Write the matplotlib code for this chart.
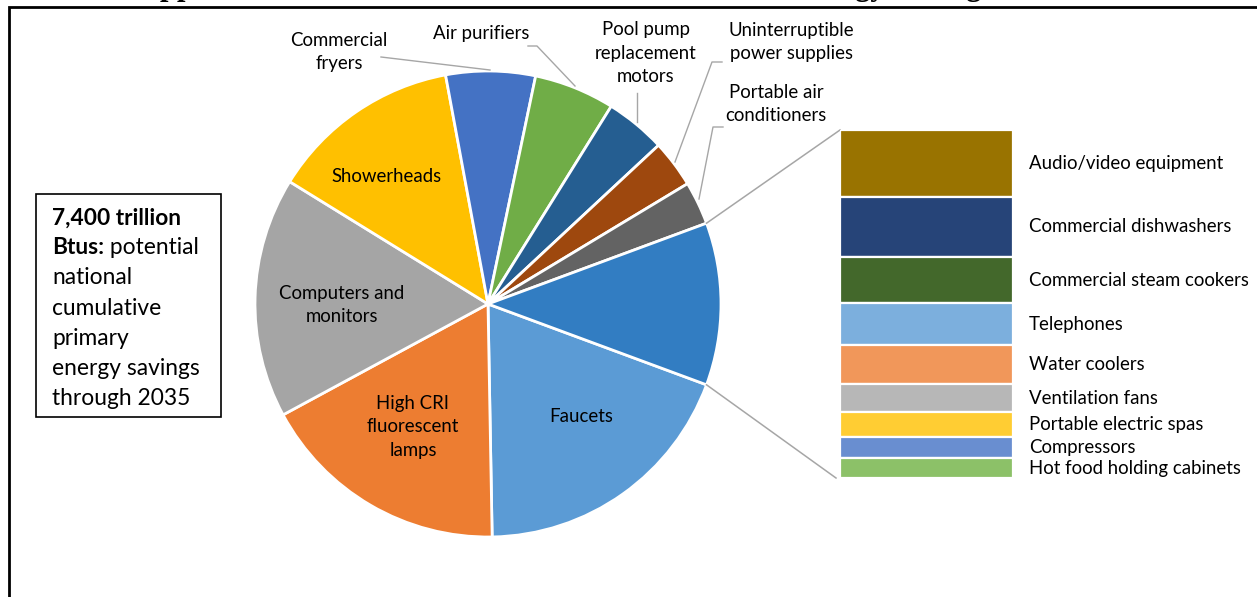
import numpy as np
import matplotlib.pyplot as plt
from matplotlib.patches import Rectangle
from matplotlib.transforms import blended_transform_factory

plt.rcParams["font.family"] = ["Lato", "DejaVu Sans"]

# savings in trillion Btu, listed clockwise from the "other" wedge
pie_labels = [
    "Faucets",
    "High CRI\nfluorescent\nlamps",
    "Computers and\nmonitors",
    "Showerheads",
    "Commercial\nfryers",
    "Air purifiers",
    "Pool pump\nreplacement\nmotors",
    "Uninterruptible\npower supplies",
    "Portable air\nconditioners",
]
pie_values = [1413, 1288, 1236, 984, 459, 414, 311, 244, 222]
pie_colors = ["#5B9BD5", "#ED7D31", "#A5A5A5", "#FFC000", "#4472C4",
              "#70AD47", "#255E91", "#9E480E", "#636363"]

# the small products that make up the "other" wedge, top to bottom
bar_labels = [
    "Audio/video equipment",
    "Commercial dishwashers",
    "Commercial steam cookers",
    "Telephones",
    "Water coolers",
    "Ventilation fans",
    "Portable electric spas",
    "Compressors",
    "Hot food holding cabinets",
]
bar_values = [161, 143, 112, 100, 94, 67, 60, 51, 47]
bar_colors = ["#997300", "#264478", "#43682B", "#7CAFDD", "#F1975A",
              "#B7B7B7", "#FFCD33", "#698ED0", "#8CC168"]
other_color = "#327DC2"

box_lines = ["national", "cumulative", "primary", "energy savings", "through 2035"]

W, H = 1257, 597
fig = plt.figure(figsize=(W / 100, H / 100), dpi=100)
ax = fig.add_axes([0, 0, 1, 1])

# pie, drawn in pixel-like units
cx, cy, r = 488, 293, 233
other_value = sum(bar_values)
values = pie_values + [other_value]
half = 180.0 * other_value / sum(values)
wedges, _ = ax.pie(values, colors=pie_colors + [other_color], startangle=-half,
                   counterclock=False, center=(cx, cy), radius=r,
                   wedgeprops=dict(edgecolor="white", linewidth=2))
ax.set_xlim(0, W)
ax.set_ylim(0, H)
ax.set_aspect("auto")
ax.axis("off")

fs = 13.4
label_pos = [
    (581, 417), (413, 427), (342, 305), (387, 176),
    (339, 52), (481, 33), (646, 53), (791, 42), (776, 104),
]
for text, (x, y) in zip(pie_labels, label_pos):
    ax.text(x, H - y, text, ha="center", va="center", fontsize=fs,
            linespacing=1.45, color="#000000")

# leader lines for the outside labels
leaders = [
    [(381, 57), (490, 70)],
    [(528, 46), (537, 46), (575, 86)],
    [(637, 93), (637, 122)],
    [(722, 62), (712, 62), (675, 162)],
    [(723, 127), (713, 127), (699, 199)],
]
for pts in leaders:
    xs = [p[0] for p in pts]
    ys = [H - p[1] for p in pts]
    ax.plot(xs, ys, color="#A6A6A6", lw=1)

# stacked bar that breaks out the "other" wedge
bl, bt, bw, bh = 840, 130, 173, 348
bax = fig.add_axes([bl / W, (H - bt - bh) / H, bw / W, bh / H])
bottoms = np.concatenate([[0], np.cumsum(bar_values)[:-1]])
bax.bar(0, bar_values, bottom=bottoms, width=1, color=bar_colors,
        edgecolor="white", linewidth=1.6)
bax.set_xlim(-0.5, 0.5)
bax.set_ylim(sum(bar_values), 0)
bax.axis("off")
tr = blended_transform_factory(bax.transAxes, bax.transData)
for text, b, v in zip(bar_labels, bottoms, bar_values):
    bax.text((1029 - bl) / bw, b + v / 2, text, transform=tr, ha="left",
             va="center", fontsize=fs, color="#000000")

# connectors from the "other" wedge to the bar
for sign, target in [(1, (bl, bt)), (-1, (bl - 4, bt + bh))]:
    a = np.deg2rad(sign * half)
    ax.plot([cx + r * np.cos(a), target[0]], [cy + r * np.sin(a), H - target[1]],
            color="#A6A6A6", lw=1.1)

# text box on the left
ax.add_patch(Rectangle((36, H - 417), 185, 223, fill=False, ec="black", lw=1.2))
bfs = 16.4
ax.text(52, H - 218, "7,400 trillion", fontsize=bfs, fontweight="bold", va="center")
t_b = ax.text(52, H - 248, "Btus:", fontsize=bfs, fontweight="bold", va="center")
ax.annotate(" potential", xy=(1, 0), xycoords=t_b, va="bottom", ha="left",
            fontsize=bfs)
for i, line in enumerate(box_lines):
    ax.text(52, H - 278 - 30.2 * i, line, fontsize=bfs, va="center")

# outer frame and heading running off the top edge
ax.add_patch(Rectangle((9, -60), 1400, H - 7 + 60, fill=False, ec="black", lw=2))
ax.text(138, H + 5, "Appliance Standards for New Products: Potential Energy Savings",
        fontsize=22, fontweight="bold", family="Liberation Serif", va="baseline")

fig.savefig("out.png", dpi=100)
